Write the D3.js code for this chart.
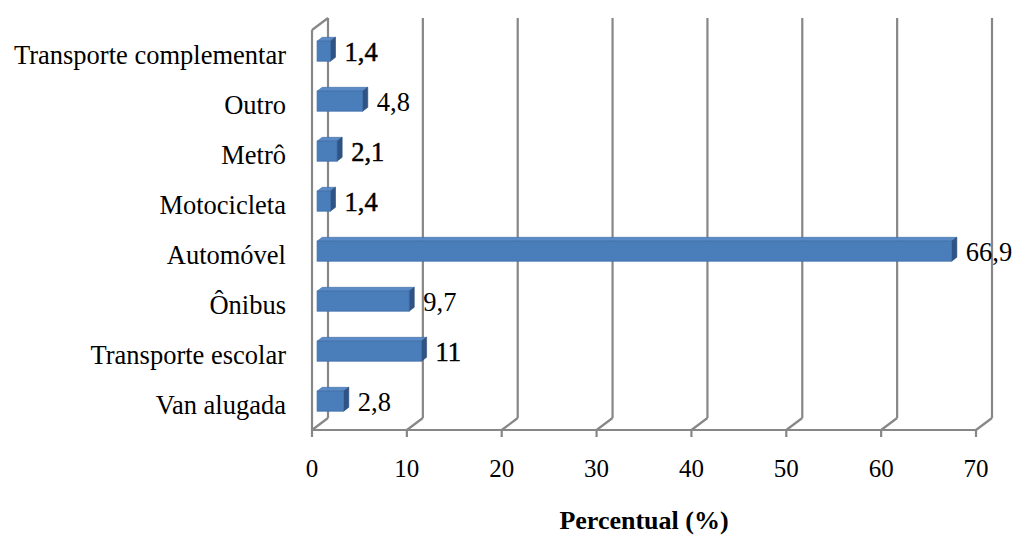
<!DOCTYPE html>
<html>
<head>
<meta charset="utf-8">
<script src="https://cdn.jsdelivr.net/npm/d3@7"></script>
<style>
  html, body { margin: 0; padding: 0; background: #fff; }
  svg { display: block; }
  text { font-family: "Liberation Serif", "Times New Roman", serif; fill: #000; }
</style>
</head>
<body>
<svg id="chart" width="1017" height="536"></svg>
<script>
// ---- data ----
const categories = ["Transporte complementar", "Outro", "Metrô", "Motocicleta", "Automóvel", "Ônibus", "Transporte escolar", "Van alugada"];
const values = [1.4, 4.8, 2.1, 1.4, 66.9, 9.7, 11, 2.8];
const valueLabels = ["1,4", "4,8", "2,1", "1,4", "66,9", "9,7", "11", "2,8"];
const xTicks = [0, 10, 20, 30, 40, 50, 60, 70];
const axisTitle = "Percentual (%)";

// ---- styles ----
const darkValueIdx = new Set([0, 2, 3, 6]);
const gridColor = "#878787";
const frontColor = "#4A7EBB";
const topColor = "#5A8BC6";
const sideColor = "#2F5384";

const svg = d3.select("#chart");
const plotL = 312, plotR = 976, plotT = 30, plotB = 430;
const depthX = 16, depthY = -12;

const x = d3.scaleLinear().domain([0, 70]).range([plotL, plotR]);
const y = d3.scaleBand().domain(categories).range([plotT, plotB]).paddingInner(0.6).paddingOuter(0.3);

const grid = svg.append("g").attr("stroke", gridColor).attr("stroke-width", 2.2).attr("fill", "none");
xTicks.forEach(t => {
  const fx = x(t);
  grid.append("line").attr("x1", fx + depthX).attr("x2", fx + depthX)
    .attr("y1", plotB + depthY).attr("y2", plotT + depthY);
  grid.append("line").attr("x1", fx).attr("x2", fx + depthX)
    .attr("y1", plotB).attr("y2", plotB + depthY);
  grid.append("line").attr("x1", fx).attr("x2", fx)
    .attr("y1", plotB).attr("y2", plotB + 7);
});
grid.append("line").attr("x1", plotL).attr("x2", plotR).attr("y1", plotB).attr("y2", plotB);
grid.append("line").attr("x1", plotL).attr("x2", plotL).attr("y1", plotB).attr("y2", plotT);
grid.append("line").attr("x1", plotL).attr("x2", plotL + depthX).attr("y1", plotT).attr("y2", plotT + depthY);

// bars
const f0 = 0.32, f1 = 0.64;
const bars = svg.append("g");
categories.forEach((c, i) => {
  const v = values[i];
  const x0 = x(0), x1 = x(v);
  const yt = y(c), h = y.bandwidth();
  const ax = depthX * f0, ay = depthY * f0, bx = depthX * f1, by = depthY * f1;
  const g = bars.append("g");
  g.append("polygon").attr("points", [
    [x0 + ax, yt + ay], [x1 + ax, yt + ay], [x1 + bx, yt + by], [x0 + bx, yt + by]
  ].map(p => p.join(",")).join(" ")).attr("fill", topColor).attr("stroke", "#3E6BA3").attr("stroke-width", 0.6);
  g.append("polygon").attr("points", [
    [x1 + ax, yt + ay], [x1 + bx, yt + by], [x1 + bx, yt + by + h], [x1 + ax, yt + ay + h]
  ].map(p => p.join(",")).join(" ")).attr("fill", sideColor).attr("stroke", "#2A4A75").attr("stroke-width", 0.6);
  g.append("rect").attr("x", x0 + ax).attr("y", yt + ay).attr("width", x1 - x0).attr("height", h)
    .attr("fill", frontColor).attr("stroke", "#3D6CA6").attr("stroke-width", 0.8);
  const t = svg.append("text")
    .attr("x", x1 + bx + 9)
    .attr("y", yt + ay + h / 2 + 10)
    .attr("font-size", 26.5)
    .text(valueLabels[i]);
  if (darkValueIdx.has(i)) t.attr("stroke", "#000").attr("stroke-width", 0.5);
});

// category labels
svg.append("g").selectAll("text").data(categories).join("text")
  .attr("x", 286)
  .attr("y", d => y(d) + y.bandwidth() / 2 + 9)
  .attr("text-anchor", "end")
  .attr("font-size", 26.5)
  .text(d => d);

// tick labels
svg.append("g").selectAll("text").data(xTicks).join("text")
  .attr("x", d => x(d))
  .attr("y", 477)
  .attr("text-anchor", "middle")
  .attr("font-size", 25)
  .text(d => d);

// axis title
svg.append("text")
  .attr("x", (plotL + plotR) / 2)
  .attr("y", 529)
  .attr("text-anchor", "middle")
  .attr("font-size", 26)
  .attr("font-weight", "bold")
  .text(axisTitle);
</script>
</body>
</html>
